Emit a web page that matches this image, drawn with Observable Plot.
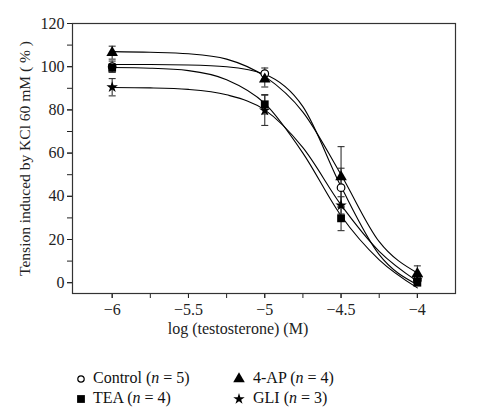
<!DOCTYPE html>
<html><head><meta charset="utf-8">
<script src="https://cdn.jsdelivr.net/npm/d3@7"></script>
<script src="https://cdn.jsdelivr.net/npm/@observablehq/plot@0.6"></script>
<style>
body{margin:0;background:#fff;font-family:"Liberation Serif",serif;}
#wrap{position:relative;width:478px;height:414px;}
#legend{position:absolute;left:0;top:350px;width:478px;height:64px;}
.item{position:absolute;font-size:16px;line-height:20px;color:#111;white-space:nowrap;}
.item svg{position:absolute;top:4px;}
</style></head><body><div id="wrap"><div id="chart"></div><div id="legend"></div></div>
<script>
// ---- data ----
const doses = [-6, -5, -4.5, -4];
const seriesNames = ["Control", "TEA", "4-AP", "GLI"];
const seriesN = [5, 4, 4, 3];
const controlMean = [100, 96.8, 44, 1.2];
const controlErr  = [2.6, 2.6, 9, 1.5];
const teaMean = [99.5, 82.6, 29.8, 0];
const teaErr  = [2, 4.5, 5.7, 1.2];
const apMean = [106.5, 94.2, 49, 4.2];
const apErr  = [3, 3.6, 14, 3.6];
const gliMean = [90.5, 79.8, 35.8, 1.5];
const gliErr  = [4, 7, 4, 1.5];

const curveX = [-6, -5.75, -5.5, -5.25, -5, -4.75, -4.5, -4.25, -4];
const controlCurve = [101, 101, 100.8, 100, 96.5, 81.5, 44.5, 13, -0.9];
const teaCurve = [99.6, 99.3, 98.2, 94, 83, 60, 31, 10.6, -2.4];
const apCurve = [107, 106.7, 106, 103.5, 95.5, 79, 50, 19, 4.5];
const gliCurve = [90.4, 90.2, 89.5, 87, 80, 62.5, 36, 14.5, 0.6];

const xTicks = [-6, -5.75, -5.5, -5.25, -5, -4.75, -4.5, -4.25, -4];
const xLabels = [-6, -5.5, -5, -4.5, -4];
const yTicks = [0, 10, 20, 30, 40, 50, 60, 70, 80, 90, 100, 110, 120];
const yLabels = [0, 20, 40, 60, 80, 100, 120];
const xTitle = "log (testosterone) (M)";
const yTitle = "Tension induced by KCl 60 mM ( % )";

// ---- build tables ----
const means = [controlMean, teaMean, apMean, gliMean];
const errs = [controlErr, teaErr, apErr, gliErr];
const curves = [controlCurve, teaCurve, apCurve, gliCurve];
const pts = seriesNames.map((s, i) => doses.map((x, j) => ({series: s, x, mean: means[i][j], err: errs[i][j]})));
const allPts = pts.flat();
const curveRows = seriesNames.flatMap((s, i) => curveX.map((x, j) => ({series: s, x, y: curves[i][j]})));

const minus = d => String(d).replace("-", "\u2212");
const cap = {draw(ctx, size) { ctx.moveTo(-3.5, 0); ctx.lineTo(3.5, 0); }};
const ink = "#222";

const styles = [
  {symbol: "circle", r: 3.8, fill: "white", stroke: "black", strokeWidth: 1.2},
  {symbol: "square", r: 4.4, fill: "black"},
  {symbol: "triangle", r: 4.3, fill: "black"},
  {symbol: "star", r: 3.6, fill: "black"}
];

const chart = Plot.plot({
  width: 478, height: 350,
  marginLeft: 72, marginRight: 23, marginTop: 23, marginBottom: 57,
  style: {fontFamily: "Liberation Serif, serif", fontSize: "16px", color: "#222", background: "white"},
  x: {domain: [-6.26, -3.75]},
  y: {domain: [-5, 120]},
  marks: [
    Plot.axisX({ticks: xTicks, tickFormat: () => "", tickSize: 5, stroke: ink, label: null}),
    Plot.axisX({ticks: xLabels, tickFormat: minus, tickSize: 5, tickPadding: 5, stroke: ink, label: null}),
    Plot.axisY({ticks: yTicks, tickFormat: () => "", tickSize: 5, stroke: ink, label: null}),
    Plot.axisY({ticks: yLabels, tickFormat: minus, tickSize: 5, tickPadding: 3, stroke: ink, label: null}),
    Plot.frame({stroke: "#333", strokeWidth: 1.2}),
    Plot.line(curveRows, {x: "x", y: "y", z: "series", curve: "monotone-x", stroke: "black", strokeWidth: 1.1}),
    Plot.ruleX(allPts, {x: "x", y1: d => d.mean - d.err, y2: d => d.mean + d.err, stroke: "#333", strokeWidth: 1.1}),
    Plot.dot(allPts, {x: "x", y: d => d.mean + d.err, symbol: cap, stroke: "#333", strokeWidth: 1.1, fill: "none"}),
    Plot.dot(allPts, {x: "x", y: d => d.mean - d.err, symbol: cap, stroke: "#333", strokeWidth: 1.1, fill: "none"}),
    ...pts.map((p, i) => Plot.dot(p, {x: "x", y: "mean", ...styles[i]})),
    Plot.text([xTitle], {text: d => d, frameAnchor: "bottom", dy: 40, dx: -26, fontSize: 16, fill: "#222"}),
    Plot.text([yTitle], {text: d => d, frameAnchor: "left", textAnchor: "middle", rotate: -90, dx: -47, fontSize: 15.5, fill: "#222"})
  ]
});
document.getElementById("chart").appendChild(chart);

// ---- legend ----
const legendPos = [[74, 18], [74, 38], [232, 18], [232, 38]];
const legend = document.getElementById("legend");
const symMap = {circle: d3.symbolCircle, square: d3.symbolSquare, triangle: d3.symbolTriangle, star: d3.symbolStar};
seriesNames.forEach((name, i) => {
  const st = styles[i];
  const div = document.createElement("div");
  div.className = "item";
  div.style.left = legendPos[i][0] + "px";
  div.style.top = legendPos[i][1] + "px";
  const size = st.symbol === "circle" ? Math.PI * 3.2 * 3.2 : Math.PI * st.r * st.r;
  const path = d3.symbol(symMap[st.symbol], size)();
  div.innerHTML = `<svg width="14" height="14" style="left:0"><path transform="translate(7,7)" d="${path}" fill="${st.fill}" stroke="${st.stroke || "none"}" stroke-width="${st.strokeWidth || 0}"/></svg>` +
    `<span style="margin-left:${i < 2 ? 19 : 21}px">${name} (<i>n</i> = ${seriesN[i]})</span>`;
  legend.appendChild(div);
});
</script></body></html>
